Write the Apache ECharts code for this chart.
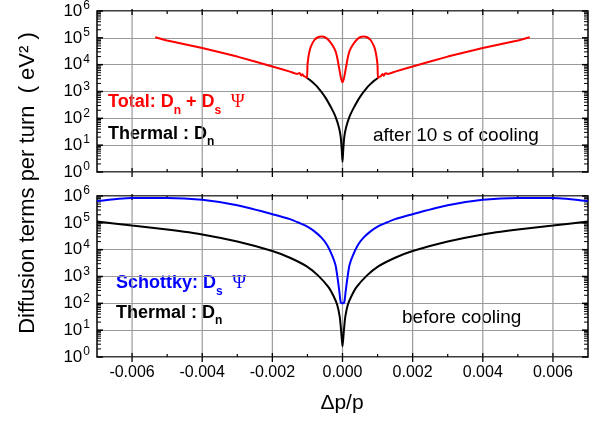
<!DOCTYPE html>
<html>
<head>
<meta charset="utf-8">
<script src="https://cdn.jsdelivr.net/npm/echarts@6/dist/echarts.min.js"></script>
<style>
  html, body { margin: 0; padding: 0; background: #fff; }
  #main { width: 610px; height: 426px; }
</style>
</head>
<body>
<div id="main"></div>
<script>
// tick positions
const xMajorTicks = [-0.006, -0.004, -0.002, 0, 0.002, 0.004, 0.006];
const xMinorTicks = [-0.005, -0.003, -0.001, 0.001, 0.003, 0.005];
const yDecades = [1, 10, 100, 1000, 10000, 100000, 1000000];
const minorMantissas = [2, 3, 4, 5, 6, 7, 8, 9];

// top panel: after 10 s of cooling
const thermalAfter = [
  [-0.00101, 3.2e3], [-0.0009, 2.5e3], [-0.0007, 1.4e3], [-0.0005, 630],
  [-0.0003, 220], [-0.0002, 115], [-0.0001, 45], [-0.00005, 20], [-0.00002, 6.3],
  [0, 2.4],
  [0.00002, 6.3], [0.00005, 20], [0.0001, 45], [0.0002, 115], [0.0003, 220],
  [0.0005, 630], [0.0007, 1.4e3], [0.0009, 2.5e3], [0.00101, 3.2e3]
];
const totalAfter = [
  [-0.00534, 1.05e5], [-0.005, 7.9e4], [-0.004, 4.2e4], [-0.003, 2.0e4],
  [-0.002, 8.5e3], [-0.0015, 5.5e3], [-0.0013, 4.5e3], [-0.00122, 4.9e3],
  [-0.00118, 3.9e3], [-0.00114, 4.4e3], [-0.0011, 3.7e3], [-0.00105, 3.5e3],
  [-0.00101, 3.2e3], [-0.001, 8.9e3], [-0.00098, 1.6e4], [-0.00095, 2.8e4],
  [-0.0009, 4.8e4], [-0.0008, 8.3e4], [-0.0007, 1.05e5], [-0.0006, 1.12e5],
  [-0.0005, 1.05e5], [-0.0004, 8.3e4], [-0.0003, 5.6e4], [-0.0002, 3.2e4],
  [-0.00015, 1.8e4], [-0.0001, 7.9e3], [-0.00005, 3.5e3], [0, 2.2e3],
  [0.00005, 3.5e3], [0.0001, 7.9e3], [0.00015, 1.8e4], [0.0002, 3.2e4],
  [0.0003, 5.6e4], [0.0004, 8.3e4], [0.0005, 1.05e5], [0.0006, 1.12e5],
  [0.0007, 1.05e5], [0.0008, 8.3e4], [0.0009, 4.8e4], [0.00095, 2.8e4],
  [0.00098, 1.6e4], [0.001, 8.9e3], [0.00101, 3.2e3], [0.00105, 3.5e3],
  [0.0011, 3.8e3], [0.00114, 4.5e3], [0.00118, 3.9e3], [0.00122, 4.8e3],
  [0.0013, 4.5e3], [0.0015, 5.5e3], [0.002, 8.5e3], [0.003, 2.0e4],
  [0.004, 4.2e4], [0.005, 7.9e4], [0.00534, 1.05e5]
];

// bottom panel: before cooling
const thermalBefore = [
  [-0.007, 1.12e5], [-0.006, 7.9e4], [-0.005, 5.6e4], [-0.004, 3.7e4],
  [-0.003, 2.0e4], [-0.002, 8.9e3], [-0.0015, 5.0e3], [-0.001, 2.3e3],
  [-0.0007, 1.1e3], [-0.0004, 400], [-0.00025, 180], [-0.00015, 87],
  [-0.00008, 32], [-0.00004, 10], [0, 2.5],
  [0.00004, 10], [0.00008, 32], [0.00015, 87], [0.00025, 180], [0.0004, 400],
  [0.0007, 1.1e3], [0.001, 2.3e3], [0.0015, 5.0e3], [0.002, 8.9e3],
  [0.003, 2.0e4], [0.004, 3.7e4], [0.005, 5.6e4], [0.006, 7.9e4], [0.007, 1.12e5]
];
const schottkyBefore = [
  [-0.007, 6.5e5], [-0.006, 8.5e5], [-0.005, 8.5e5], [-0.004, 7.2e5],
  [-0.003, 4.5e5], [-0.002, 2.1e5], [-0.0015, 1.38e5], [-0.0012, 9.5e4],
  [-0.001, 7.2e4], [-0.0008, 4.8e4], [-0.0006, 2.8e4], [-0.00044, 1.5e4],
  [-0.0003, 6.3e3], [-0.0002, 2.7e3], [-0.00014, 870], [-0.00009, 280],
  [-0.00005, 110], [0, 100],
  [0.00005, 110], [0.00009, 280], [0.00014, 870], [0.0002, 2.7e3],
  [0.0003, 6.3e3], [0.00044, 1.5e4], [0.0006, 2.8e4], [0.0008, 4.8e4],
  [0.001, 7.2e4], [0.0012, 9.5e4], [0.0015, 1.38e5], [0.002, 2.1e5],
  [0.003, 4.5e5], [0.004, 7.2e5], [0.005, 8.5e5], [0.006, 8.5e5], [0.007, 6.5e5]
];

const FONT = 'Liberation Sans';
var chart = echarts.init(document.getElementById('main'));

function seg(x1, y1, x2, y2, stroke, w) {
  return { type: 'line', shape: { x1: x1, y1: y1, x2: x2, y2: y2 }, style: { stroke: stroke, lineWidth: w } };
}

// grid lines + box ticks, placed through the axes
function frameRender(params, api) {
  const kids = [];
  const xl = api.coord([-0.007, 1])[0], xr = api.coord([0.007, 1])[0];
  const yb = api.coord([0, 1])[1], yt = api.coord([0, 1e6])[1];
  xMajorTicks.forEach(v => {
    const x = api.coord([v, 1])[0];
    kids.push(seg(x, yt, x, yb, '#9a9a9a', 1.2));
  });
  xMajorTicks.forEach(v => {
    const x = api.coord([v, 1])[0];
    kids.push(seg(x, yb - 4, x, yb + 5, '#000', 1.3));
    kids.push(seg(x, yt + 4, x, yt - 2, '#000', 1.3));
  });
  xMinorTicks.forEach(v => {
    const x = api.coord([v, 1])[0];
    kids.push(seg(x, yb - 3, x, yb, '#000', 1.2));
    kids.push(seg(x, yt + 3, x, yt, '#000', 1.2));
  });
  yDecades.forEach(d => {
    const y = api.coord([0, d])[1];
    kids.push(seg(xl, y, xl + 6, y, '#000', 1.5));
    kids.push(seg(xr, y, xr - 6, y, '#000', 1.5));
    if (d < 1e6) {
      minorMantissas.forEach(m => {
        const ym = api.coord([0, d * m])[1];
        kids.push(seg(xl, ym, xl + 4, ym, '#000', 1));
        kids.push(seg(xr, ym, xr - 4, ym, '#000', 1));
      });
    }
  });
  return { type: 'group', children: kids };
}

function xAxisFor(idx, showLabels) {
  return {
    gridIndex: idx, type: 'value', min: -0.007, max: 0.007, interval: 0.001,
    axisLine: { show: false }, axisTick: { show: false }, splitLine: { show: false },
    axisLabel: {
      show: showLabels, margin: 8, color: '#000', fontSize: 16, fontFamily: FONT,
      formatter: v => (Math.round(v * 1000) % 2 === 0 ? v.toFixed(3) : '')
    }
  };
}

function yAxisFor(idx) {
  return {
    gridIndex: idx, type: 'log', logBase: 10, min: 1, max: 1e6,
    axisLine: { show: false }, axisTick: { show: false },
    splitLine: { show: true, lineStyle: { color: '#9a9a9a', width: 1.2 } },
    axisLabel: {
      margin: 7, color: '#000',
      formatter: v => '{b|10}{s|' + Math.round(Math.log10(v)) + '}',
      rich: {
        b: { fontSize: 17, fontFamily: FONT, lineHeight: 22, verticalAlign: 'middle' },
        s: { fontSize: 12, fontFamily: FONT, lineHeight: 22, verticalAlign: 'top', padding: [0, 0, 0, 1] }
      }
    }
  };
}

function curve(name, xi, data, color, z, smooth) {
  return {
    name: name, type: 'line', xAxisIndex: xi, yAxisIndex: xi, data: data,
    showSymbol: false, z: z, smooth: smooth,
    lineStyle: { color: color, width: 2 }
  };
}

function richLabel(left, top, text, color, rich) {
  return { type: 'text', left: left, top: top, silent: true, style: { text: text, fill: color, rich: rich } };
}

const boldRich = {
  m: { fontSize: 18, fontWeight: 'bold', fontFamily: FONT, lineHeight: 28, verticalAlign: 'middle' },
  sub: { fontSize: 12, fontWeight: 'bold', fontFamily: FONT, lineHeight: 28, verticalAlign: 'bottom' },
  g: { fontSize: 19, fontFamily: 'Liberation Serif', lineHeight: 28, verticalAlign: 'middle' }
};

var option = {
  backgroundColor: '#fff',
  animation: false,
  grid: [
    { left: 97, width: 491, top: 11, height: 161, show: true, borderColor: '#000', borderWidth: 1.5, backgroundColor: 'transparent' },
    { left: 97, width: 491, top: 196, height: 161, show: true, borderColor: '#000', borderWidth: 1.5, backgroundColor: 'transparent' }
  ],
  xAxis: [xAxisFor(0, false), xAxisFor(1, true)],
  yAxis: [yAxisFor(0), yAxisFor(1)],
  series: [
    { type: 'custom', xAxisIndex: 0, yAxisIndex: 0, data: [[0, 1]], renderItem: frameRender, silent: true, z: 1 },
    { type: 'custom', xAxisIndex: 1, yAxisIndex: 1, data: [[0, 1]], renderItem: frameRender, silent: true, z: 1 },
    curve('Thermal after', 0, thermalAfter, '#000', 3, 0.25),
    curve('Total after', 0, totalAfter, '#ff0000', 4, 0.15),
    curve('Thermal before', 1, thermalBefore, '#000', 3, 0.25),
    curve('Schottky before', 1, schottkyBefore, '#0000ff', 4, 0.25)
  ],
  graphic: [
    { type: 'text', x: 28, y: 183, rotation: Math.PI / 2, silent: true,
      style: { text: 'Diffusion terms per turn  ( eV\u00b2 )', fill: '#000', font: '22px "Liberation Sans"', align: 'center', verticalAlign: 'middle' } },
    { type: 'text', x: 342, y: 403, silent: true,
      style: { text: '\u0394p/p', fill: '#000', font: '21px "Liberation Sans"', align: 'center', verticalAlign: 'middle' } },
    richLabel(108, 93, '{m|Total: D}{sub|n}{m| + D}{sub|s}{g|  \u03a8}', '#ff0000', boldRich),
    richLabel(108, 125, '{m|Thermal : D}{sub|n}', '#000', boldRich),
    { type: 'text', x: 373, y: 136, silent: true,
      style: { text: 'after 10 s of cooling', fill: '#000', font: '19px "Liberation Sans"', verticalAlign: 'middle' } },
    richLabel(116, 274, '{m|Schottky: D}{sub|s}{g|  \u03a8}', '#0000ff', boldRich),
    richLabel(116, 304, '{m|Thermal : D}{sub|n}', '#000', boldRich),
    { type: 'text', x: 402, y: 318, silent: true,
      style: { text: 'before cooling', fill: '#000', font: '19px "Liberation Sans"', verticalAlign: 'middle' } }
  ]
};
chart.setOption(option);
</script>
</body>
</html>
